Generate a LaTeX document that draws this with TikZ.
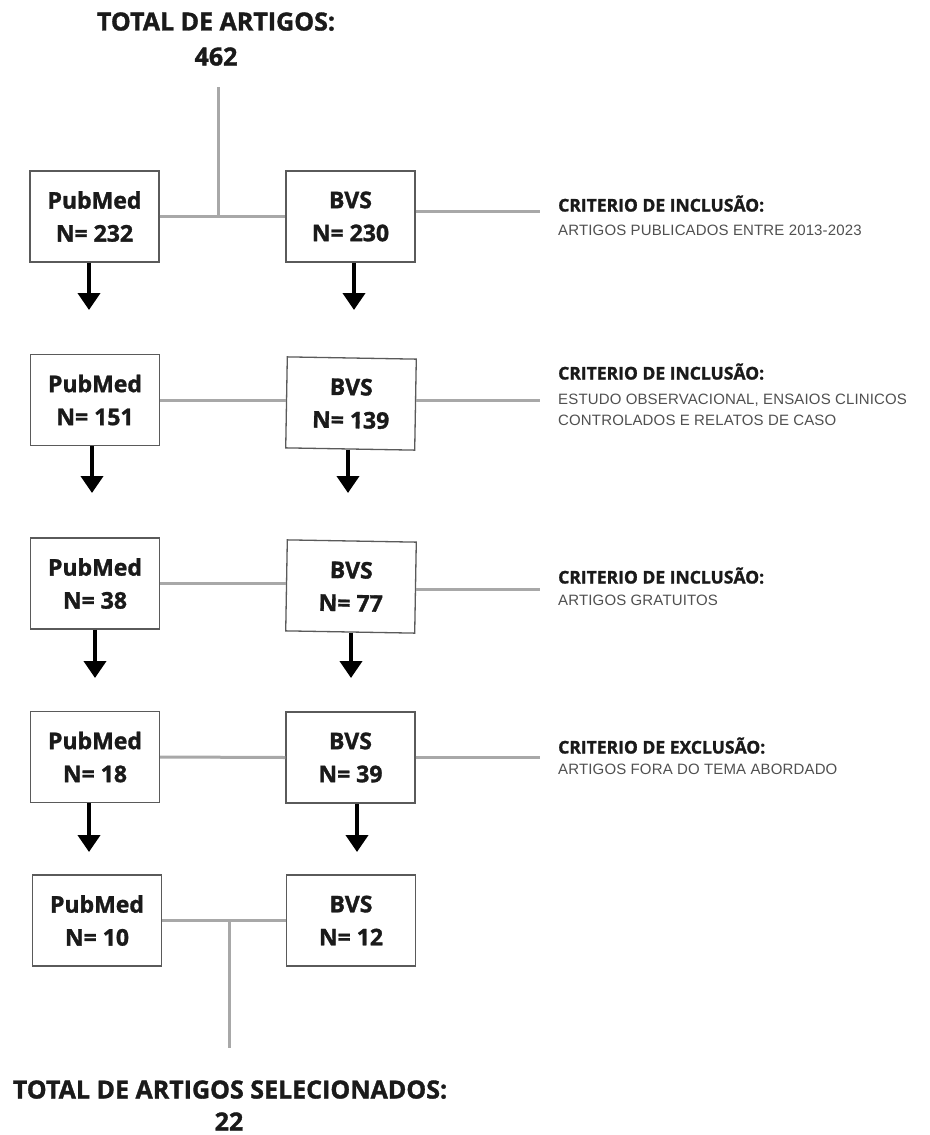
\documentclass[tikz,border=0pt]{standalone}
\usepackage{fontspec}
\setmainfont{Open Sans}[BoldFeatures={FakeBold=1.3}]
\newfontfamily\subfont[LetterSpace=1]{Liberation Sans}
\usetikzlibrary{arrows.meta}
\definecolor{linegray}{HTML}{A8A8A8}
\definecolor{boxgray}{HTML}{5A5A5A}
\definecolor{subgray}{HTML}{505050}
\definecolor{txtblack}{HTML}{1A1A1A}
\begin{document}
\begin{tikzpicture}[x=1pt,y=-1pt,
  dbbox/.style={draw=boxgray, line width=1.3pt, minimum width=129pt, minimum height=91pt,
    inner sep=0pt, align=center, font=\fontsize{23}{33}\selectfont\bfseries, text=txtblack},
  link/.style={draw=linegray, line width=3pt},
  arr/.style={draw=black, line width=4pt, -{Triangle[width=22pt,length=17pt]}},
  crit/.style={anchor=base west, inner sep=0pt, font=\fontsize{17.5}{20}\selectfont\bfseries, text=txtblack},
  critsub/.style={anchor=base west, inner sep=0pt, font=\subfont\fontsize{15}{17}\selectfont, text=subgray},
  ttl/.style={anchor=base, inner sep=0pt, font=\fontsize{25}{35}\selectfont\bfseries, text=txtblack}]
\useasboundingbox[fill=white] (0,0) rectangle (929,1135);

% titles
\node[ttl] (t1) at (216,30.5) {TOTAL DE ARTIGOS:};
\node[ttl] (t2) at (216,65.5) {462};
\node[ttl] (b1) at (230,1098.5) {TOTAL DE ARTIGOS SELECIONADOS:};
\node[ttl] (b2) at (229,1130.5) {22};

% boxes
\node[dbbox] (pm1) at (94.5,216.5) {PubMed\\N= 232};
\node[dbbox] (bv1) at (350.5,216.5) {BVS\\N= 230};
\node[dbbox] (pm2) at (95,400) {PubMed\\N= 151};
\node[dbbox,rotate=-1] (bv2) at (351,403.5) {BVS\\N= 139};
\node[dbbox] (pm3) at (95,583.5) {PubMed\\N= 38};
\node[dbbox,rotate=-1] (bv3) at (351,586.5) {BVS\\N= 77};
\node[dbbox] (pm4) at (95,757) {PubMed\\N= 18};
\node[dbbox] (bv4) at (350.5,757.5) {BVS\\N= 39};
\node[dbbox] (pm5) at (97,920.5) {PubMed\\N= 10};
\node[dbbox] (bv5) at (351,920.5) {BVS\\N= 12};

% criteria
\node[crit] (k1) at (558,211.5) {CRITERIO DE INCLUSÃO:};
\node[critsub] (k1a) at (558,235) {ARTIGOS PUBLICADOS ENTRE 2013-2023};
\node[crit] (k2) at (558,379.5) {CRITERIO DE INCLUSÃO:};
\node[critsub] (k2a) at (558,404) {ESTUDO OBSERVACIONAL, ENSAIOS CLINICOS};
\node[critsub] (k2b) at (558,425) {CONTROLADOS E RELATOS DE CASO};
\node[crit] (k3) at (558,583.5) {CRITERIO DE INCLUSÃO:};
\node[critsub] (k3a) at (558,605) {ARTIGOS GRATUITOS};
\node[crit] (k4) at (558,753.5) {CRITERIO DE EXCLUSÃO:};
\node[critsub] (k4a) at (558,774) {ARTIGOS FORA DO TEMA ABORDADO};

% coordinates
\coordinate (top) at (218,87);
\coordinate (bot) at (229,1048);
\coordinate (c1) at (540,211);
\coordinate (c2) at (540,400);
\coordinate (c3) at (540,589);
\coordinate (c4) at (540,757);
\coordinate (a1p) at (89,310);
\coordinate (a1b) at (354,310);
\coordinate (a2p) at (92,493);
\coordinate (a2b) at (348,493);
\coordinate (a3p) at (95,678);
\coordinate (a3b) at (351,678);
\coordinate (a4p) at (89,852);
\coordinate (a4b) at (357,852);

% grey links
\draw[link] (top) -- (top |- pm1.east);
\draw[link] (pm1.east) -- (bv1.west);
\draw[link] (bv1.east |- c1) -- (c1);
\draw[link] (pm2.east) -- (pm2.east -| bv2.west);
\draw[link] (bv2.east |- c2) -- (c2);
\draw[link] (pm3.east) -- (pm3.east -| bv3.west);
\draw[link] (bv3.east |- c3) -- (c3);
\draw[link] (pm4.east) -- (bv4.west);
\draw[link] (bv4.east |- c4) -- (c4);
\draw[link] (pm5.east) -- (bv5.west);
\draw[link] (bot |- pm5.east) -- (bot);

% arrows
\draw[arr] (pm1.south -| a1p) -- (a1p);
\draw[arr] (bv1.south -| a1b) -- (a1b);
\draw[arr] (pm2.south -| a2p) -- (a2p);
\draw[arr] (bv2.south -| a2b) -- (a2b);
\draw[arr] (pm3.south -| a3p) -- (a3p);
\draw[arr] (bv3.south -| a3b) -- (a3b);
\draw[arr] (pm4.south -| a4p) -- (a4p);
\draw[arr] (bv4.south -| a4b) -- (a4b);
\end{tikzpicture}
\end{document}
